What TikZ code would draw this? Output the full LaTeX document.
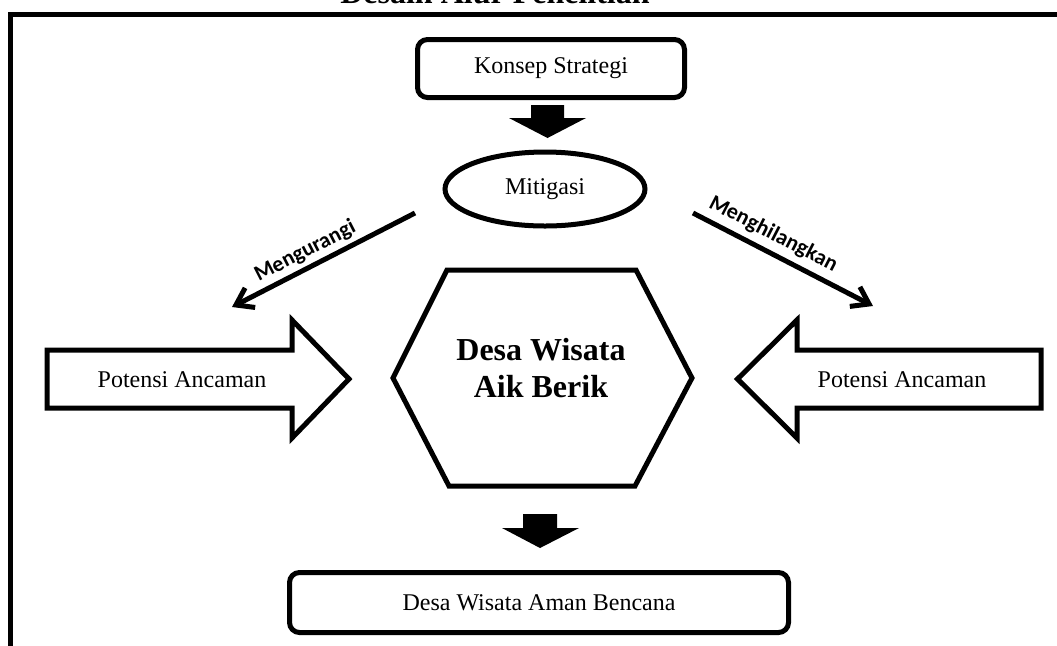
\documentclass[tikz,border=0pt]{standalone}
\usepackage{fontspec}
\setmainfont{Liberation Serif}
\newfontfamily\calib{Carlito}
\usetikzlibrary{arrows.meta,shapes.geometric}
\begin{document}
\begin{tikzpicture}[x=0.5pt,y=-0.5pt,
  box/.style={draw, line width=2.5pt, rounded corners=5pt, inner sep=0pt, font=\fontsize{12}{14}\selectfont},
  outline/.style={draw, line width=2.5pt, line join=miter},
  blockarrow/.style={fill=black},
  lbl/.style={font=\fontsize{12}{14}\selectfont, inner sep=0pt},
  thinarrow/.style={line width=2.5pt, -{Straight Barb[length=8pt,width=11pt]}},
  verb/.style={font=\calib\bfseries\fontsize{11}{13}\selectfont, inner sep=0pt}
]
\useasboundingbox (0,0) rectangle (1057,645);
\fill[white] (0,0) rectangle (1057,645);
\node[font=\bfseries\fontsize{16}{19}\selectfont, anchor=base, inner sep=0pt] (title) at (495,3) {Desain Alur Penelitian};
% frame
\draw[line width=2.5pt] (10,680) -- (10,14.5) -- (1080,14.5);
% top box
\node[box, minimum width=133.5pt, minimum height=29pt] (konsep) at (551,68.5) {Konsep Strategi};
% block arrow 1
\fill[blockarrow] (531,105) -- (564,105) -- (564,118) -- (586,118) -- (547.5,138) -- (509,118) -- (531,118) -- cycle;
% mitigasi
\node[draw, ellipse, line width=2.5pt, minimum width=100pt, minimum height=37pt, lbl] (miti) at (545,189) {Mitigasi};
% thin arrows
\coordinate (ms) at (415,213);
\coordinate (mk) at (232,307);
\coordinate (hs) at (693,213);
\coordinate (hk) at (873,306);
\draw[thinarrow] (ms) -- (mk);
\draw[thinarrow] (hs) -- (hk);
\path (mk) -- (ms) node[verb, pos=0.44, sloped, above=3pt] (lm) {Mengurangi};
\path (hs) -- (hk) node[verb, pos=0.40, sloped, above=4pt] (lh) {Menghilangkan};
% big arrows
\draw[outline] (47,350) -- (292,350) -- (292,320) -- (349,379) -- (292,438) -- (292,408) -- (47,408) -- cycle;
\node[lbl] (pa1) at (182,380) {Potensi Ancaman};
\draw[outline] (1041,350) -- (797,350) -- (797,320) -- (737.5,379) -- (797,438) -- (797,408) -- (1041,408) -- cycle;
\node[lbl] (pa2) at (902,380) {Potensi Ancaman};
% hexagon
\draw[outline] (447,270) -- (636,270) -- (692,378) -- (635,486) -- (449,486) -- (393,378) -- cycle;
\node[font=\bfseries\fontsize{16}{18.5}\selectfont, align=center, inner sep=0pt] (hex) at (541,368) {Desa Wisata\\Aik Berik};
% block arrow 2
\fill[blockarrow] (523,514) -- (557,514) -- (557,528) -- (579,528) -- (540,548) -- (502,528) -- (523,528) -- cycle;
% bottom box
\node[box, minimum width=249.5pt, minimum height=30pt] (aman) at (539,602.5) {Desa Wisata Aman Bencana};
\end{tikzpicture}
\end{document}
